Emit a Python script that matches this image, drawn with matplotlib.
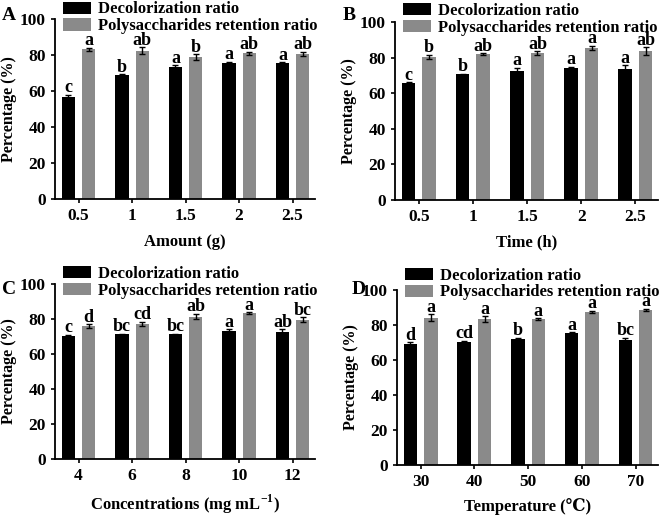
import numpy as np
import matplotlib
matplotlib.use("Agg")
import matplotlib.pyplot as plt

plt.rcParams['font.family'] = ['Liberation Serif', 'DejaVu Serif']
plt.rcParams['font.weight'] = 'bold'
plt.rcParams['mathtext.fontset'] = 'custom'
plt.rcParams['mathtext.rm'] = 'Liberation Serif:bold'
plt.rcParams['mathtext.bf'] = 'Liberation Serif:bold'

# Panel A - amount
a_ticks = ['0.5', '1', '1.5', '2', '2.5']
a_dec = [56.4, 68.8, 73.5, 75.5, 75.5]
a_dec_err = [1.5, 0.5, 0.8, 0.8, 0.5]
a_pol = [83.3, 82.4, 78.8, 80.9, 80.7]
a_pol_err = [0.8, 2.0, 1.5, 0.8, 1.2]
a_dec_lab = ['c', 'b', 'a', 'a', 'a']
a_pol_lab = ['a', 'ab', 'b', 'ab', 'ab']

# Panel B - time
b_ticks = ['0.5', '1', '1.5', '2', '2.5']
b_dec = [65.7, 70.5, 72.6, 73.9, 73.7]
b_dec_err = [0.5, 0.5, 1.5, 0.8, 2.0]
b_pol = [80.3, 82.0, 82.6, 85.4, 83.5]
b_pol_err = [1.2, 0.3, 1.0, 1.3, 2.2]
b_dec_lab = ['c', 'b', 'a', 'a', 'a']
b_pol_lab = ['b', 'ab', 'ab', 'a', 'ab']

# Panel C - concentration
c_ticks = ['4', '6', '8', '10', '12']
c_dec = [70.2, 71.2, 71.3, 73.2, 72.7]
c_dec_err = [0.8, 0.5, 0.4, 0.8, 1.5]
c_pol = [75.9, 77.2, 81.4, 83.5, 79.5]
c_pol_err = [1.0, 1.2, 1.5, 0.4, 1.5]
c_dec_lab = ['c', 'bc', 'bc', 'a', 'ab']
c_pol_lab = ['d', 'cd', 'ab', 'a', 'bc']

# Panel D - temperature
d_ticks = ['30', '40', '50', '60', '70']
d_dec = [69.0, 70.1, 72.2, 75.4, 71.2]
d_dec_err = [1.0, 0.8, 0.5, 0.5, 1.5]
d_pol = [84.2, 83.4, 83.4, 87.4, 88.6]
d_pol_err = [2.0, 1.5, 0.5, 0.8, 0.6]
d_dec_lab = ['d', 'cd', 'b', 'a', 'bc']
d_pol_lab = ['a', 'a', 'a', 'a', 'a']

fig = plt.figure(figsize=(6.61, 5.17), dpi=100)


def panel(rect, letter, letter_xy, ticks, dec, dec_err, pol, pol_err,
          dec_lab, pol_lab, xlabel, labelpad, leg_y):
    ax = fig.add_axes(rect)
    x = np.arange(len(ticks))
    w = 0.25
    off = 0.19
    ax.bar(x - off, dec, w, color='black', yerr=dec_err,
           error_kw=dict(ecolor='black', capsize=2, elinewidth=1, capthick=1),
           label='Decolorization ratio')
    ax.bar(x + off, pol, w, color='#8a8a8a', yerr=pol_err,
           error_kw=dict(ecolor='black', capsize=2, elinewidth=1, capthick=1),
           label='Polysaccharides retention ratio')
    for i in range(len(x)):
        ax.text(x[i] - off, dec[i] + dec_err[i] - 0.8, dec_lab[i],
                ha='center', va='bottom', fontsize=13, fontweight='bold')
        ax.text(x[i] + off, pol[i] + pol_err[i] - 0.8, pol_lab[i],
                ha='center', va='bottom', fontsize=13, fontweight='bold')
    ax.set_xlim(-0.44, 4.42)
    ax.set_ylim(0, 100)
    ax.set_yticks([0, 20, 40, 60, 80, 100])
    ax.set_xticks(x)
    ax.set_xticklabels(ticks)
    ax.tick_params(labelsize=12.5, width=1.2, length=3)
    for s in ['top', 'right']:
        ax.spines[s].set_visible(False)
    for s in ['left', 'bottom']:
        ax.spines[s].set_linewidth(1.3)
    ax.set_ylabel('Percentage (%)', fontsize=11.5, fontweight='bold', labelpad=2)
    ax.set_xlabel(xlabel, fontsize=12, fontweight='bold', labelpad=labelpad)
    ax.legend(loc='lower left', bbox_to_anchor=(0.03, leg_y), frameon=False,
              fontsize=12, handlelength=1.7, handleheight=0.75,
              labelspacing=0.05, handletextpad=0.4, borderpad=0,
              borderaxespad=0)
    fig.text(letter_xy[0], letter_xy[1], letter, fontsize=14, fontweight='bold',
             ha='left', va='center')
    return ax


panel([0.0832, 0.6151, 0.3934, 0.3481], 'A', (0.003, 0.97),
      a_ticks, a_dec, a_dec_err, a_pol, a_pol_err, a_dec_lab, a_pol_lab,
      'Amount (g)', 7, 0.915)
panel([0.5976, 0.6132, 0.3980, 0.3443], 'B', (0.518, 0.97),
      b_ticks, b_dec, b_dec_err, b_pol, b_pol_err, b_dec_lab, b_pol_lab,
      'Time (h)', 7, 0.923)
panel([0.0832, 0.1122, 0.3934, 0.3385], 'C', (0.003, 0.44),
      c_ticks, c_dec, c_dec_err, c_pol, c_pol_err, c_dec_lab, c_pol_lab,
      'Concentrations (mg mL$^{-1}$)', 6, 0.915)
panel([0.6006, 0.1006, 0.3950, 0.3385], 'D', (0.532, 0.44),
      d_ticks, d_dec, d_dec_err, d_pol, d_pol_err, d_dec_lab, d_pol_lab,
      'Temperature (℃)', 6, 0.94)

fig.savefig('out.png', dpi=100)
